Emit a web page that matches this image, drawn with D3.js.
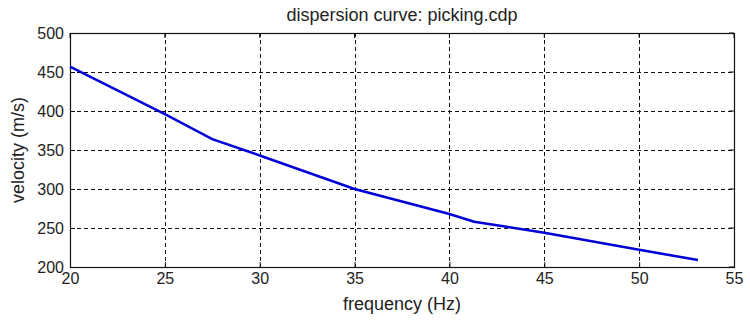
<!DOCTYPE html>
<html>
<head>
<meta charset="utf-8">
<script src="https://cdn.jsdelivr.net/npm/d3@7"></script>
<style>
  body { margin: 0; background: #fff; }
  text { font-family: "Liberation Sans", Arial, sans-serif; fill: #222; }
</style>
</head>
<body>
<script>
// picked dispersion curve
var frequency = [20, 25, 27.5, 30, 35, 40, 41.3, 45, 50, 53.1];
var velocity = [457, 396, 364, 343, 300, 268, 258, 244, 222, 209];
var xTicks = [20, 25, 30, 35, 40, 45, 50, 55];
var yTicks = [200, 250, 300, 350, 400, 450, 500];

var width = 750, height = 320;
var plotL = 70, plotR = 734, plotT = 33, plotB = 267;

var svg = d3.select('body').append('svg')
  .attr('width', width)
  .attr('height', height);

var x = d3.scaleLinear().domain([20, 55]).range([plotL, plotR]);
var y = d3.scaleLinear().domain([200, 500]).range([plotB, plotT]);

// grid
svg.append('g').selectAll('line')
  .data(xTicks.slice(1, -1))
  .enter().append('line')
  .attr('x1', function(d) { return Math.round(x(d)) + 0.5; })
  .attr('x2', function(d) { return Math.round(x(d)) + 0.5; })
  .attr('y1', plotT)
  .attr('y2', plotB)
  .attr('stroke', '#111')
  .attr('stroke-dasharray', '4,3');

svg.append('g').selectAll('line')
  .data(yTicks.slice(1, -1))
  .enter().append('line')
  .attr('y1', function(d) { return Math.round(y(d)) + 0.5; })
  .attr('y2', function(d) { return Math.round(y(d)) + 0.5; })
  .attr('x1', plotL)
  .attr('x2', plotR)
  .attr('stroke', '#111')
  .attr('stroke-dasharray', '4,3');

// axes with inward ticks
var xAxis = svg.append('g')
  .attr('transform', 'translate(0,' + plotB + ')')
  .call(d3.axisBottom(x).tickValues(xTicks).tickSizeInner(-5).tickSizeOuter(0).tickPadding(6));
var yAxis = svg.append('g')
  .attr('transform', 'translate(' + plotL + ',0)')
  .call(d3.axisLeft(y).tickValues(yTicks).tickSizeInner(-5).tickSizeOuter(0).tickPadding(6));

[xAxis, yAxis].forEach(function(a) {
  a.select('.domain').remove();
  a.selectAll('line').attr('stroke', '#111');
  a.selectAll('text')
    .style('font-family', '"Liberation Sans", Arial, sans-serif')
    .style('font-size', '16px')
    .attr('fill', '#222');
});

// top ticks and right ticks
svg.append('g').selectAll('line')
  .data(xTicks)
  .enter().append('line')
  .attr('x1', function(d) { return x(d); })
  .attr('x2', function(d) { return x(d); })
  .attr('y1', plotT)
  .attr('y2', plotT + 5)
  .attr('stroke', '#111');

svg.append('g').selectAll('line')
  .data(yTicks)
  .enter().append('line')
  .attr('y1', function(d) { return y(d); })
  .attr('y2', function(d) { return y(d); })
  .attr('x1', plotR)
  .attr('x2', plotR - 5)
  .attr('stroke', '#111');

// box
svg.append('rect')
  .attr('x', plotL + 0.5)
  .attr('y', plotT + 0.5)
  .attr('width', plotR - plotL)
  .attr('height', plotB - plotT)
  .attr('fill', 'none')
  .attr('stroke', '#111')
  .attr('stroke-width', 1.2);

// curve
var line = d3.line()
  .x(function(d, i) { return x(frequency[i]); })
  .y(function(d) { return y(d); });

svg.append('path')
  .datum(velocity)
  .attr('d', line)
  .attr('fill', 'none')
  .attr('stroke', '#0000d8')
  .attr('stroke-width', 2.5);

// labels
svg.append('text')
  .text('dispersion curve: picking.cdp')
  .attr('x', (plotL + plotR) / 2)
  .attr('y', 21)
  .attr('text-anchor', 'middle')
  .style('font-size', '18px');

svg.append('text')
  .text('frequency (Hz)')
  .attr('x', (plotL + plotR) / 2)
  .attr('y', 310)
  .attr('text-anchor', 'middle')
  .style('font-size', '18px');

svg.append('text')
  .text('velocity (m/s)')
  .attr('transform', 'translate(24,' + (plotT + plotB) / 2 + ') rotate(-90)')
  .attr('text-anchor', 'middle')
  .style('font-size', '18px');
</script>
</body>
</html>
